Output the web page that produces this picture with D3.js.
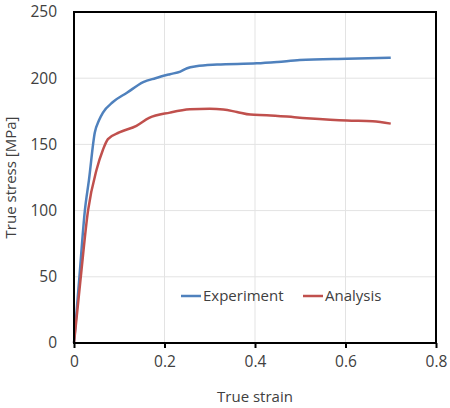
<!DOCTYPE html>
<html>
<head>
<meta charset="utf-8">
<script src="https://cdn.jsdelivr.net/npm/d3@7"></script>
<style>
  body { margin: 0; background: #fff; }
  text { font-family: "Open Sans", "Noto Sans", sans-serif; fill: #404040; }
</style>
</head>
<body>
<div id="chart-area"></div>
<script>
// chart values
var seriesNames = ["Experiment", "Analysis"];
var seriesColors = ["#4f81bd", "#c0504d"];

var expStrain = [0, 0.012, 0.024, 0.033, 0.046, 0.055, 0.064, 0.086, 0.117, 0.153, 0.18, 0.212, 0.235, 0.25, 0.27, 0.316, 0.404, 0.45, 0.499, 0.603, 0.70];
var expStress = [0, 50, 100, 123, 159, 168, 174, 182, 189, 197, 200, 203, 205, 207.5, 209, 210.3, 211.2, 212.3, 213.7, 214.7, 215.4];

var anaStrain = [0, 0.015, 0.031, 0.05, 0.064, 0.075, 0.10, 0.138, 0.166, 0.212, 0.256, 0.30, 0.33, 0.36, 0.39, 0.426, 0.499, 0.603, 0.66, 0.70];
var anaStress = [0, 50, 100, 131, 146, 154, 159, 164, 170, 174, 176.5, 177, 176.4, 174.5, 172.5, 172.1, 170.2, 168, 167.5, 165.7];

var xTicks = [0, 0.2, 0.4, 0.6, 0.8];
var yTicks = [0, 50, 100, 150, 200, 250];

var margin = { left: 74, right: 14, top: 12, bottom: 65 };
var width = 450 - margin.left - margin.right,
    height = 408 - margin.top - margin.bottom;

var svg = d3.select("#chart-area")
    .append("svg")
        .attr("width", 450)
        .attr("height", 408);
var g = svg.append("g")
        .attr("transform", "translate(" + margin.left + "," + margin.top + ")");

var x = d3.scaleLinear()
    .domain([0, 0.8])
    .range([0, width]);

var y = d3.scaleLinear()
    .domain([0, 250])
    .range([height, 0]);

// gridlines
g.selectAll(".hgrid")
    .data(yTicks.slice(1, -1))
    .enter().append("line")
        .attr("x1", 0).attr("x2", width)
        .attr("y1", function(d){ return y(d); })
        .attr("y2", function(d){ return y(d); })
        .attr("stroke", "#e3e3e3");
g.selectAll(".vgrid")
    .data(xTicks.slice(1, -1))
    .enter().append("line")
        .attr("y1", 0).attr("y2", height)
        .attr("x1", function(d){ return x(d); })
        .attr("x2", function(d){ return x(d); })
        .attr("stroke", "#e3e3e3");

// X Axis
var xAxisCall = d3.axisBottom(x)
    .tickValues(xTicks)
    .tickSize(5)
    .tickPadding(8)
    .tickFormat(function(d){ return d === 0 ? "0" : d3.format(".1f")(d); });
var xAxis = g.append("g")
    .attr("transform", "translate(0," + height + ")")
    .call(xAxisCall);
xAxis.select(".domain").remove();
xAxis.selectAll("line").attr("stroke", "#000").attr("stroke-width", 2);
xAxis.selectAll("text").attr("font-size", "15.5px").attr("fill", "#404040")
    .style("font-family", "'Open Sans', sans-serif");

// Y Axis
var yAxisCall = d3.axisLeft(y)
    .tickValues(yTicks)
    .tickSize(0)
    .tickPadding(17);
var yAxis = g.append("g").call(yAxisCall);
yAxis.select(".domain").remove();
yAxis.selectAll("text").attr("font-size", "15.5px").attr("fill", "#404040")
    .style("font-family", "'Open Sans', sans-serif");

// lines
var line = d3.line()
    .curve(d3.curveMonotoneX)
    .x(function(d){ return x(d[0]); })
    .y(function(d){ return y(d[1]); });

var series = [
    d3.zip(expStrain, expStress),
    d3.zip(anaStrain, anaStress)
];

g.selectAll(".series")
    .data(series)
    .enter().append("path")
        .attr("fill", "none")
        .attr("stroke", function(d, i){ return seriesColors[i]; })
        .attr("stroke-width", 2.5)
        .attr("stroke-linejoin", "round")
        .attr("d", line);

// frame
g.append("rect")
    .attr("width", width)
    .attr("height", height)
    .attr("fill", "none")
    .attr("stroke", "#000")
    .attr("stroke-width", 2);

// Labels
g.append("text")
    .attr("x", width / 2)
    .attr("y", height + 59)
    .attr("font-size", "15px")
    .attr("text-anchor", "middle")
    .text("True strain");
g.append("text")
    .attr("transform", "rotate(-90)")
    .attr("x", -height / 2)
    .attr("y", -58)
    .attr("font-size", "15px")
    .attr("text-anchor", "middle")
    .text("True stress [MPa]");

// legend
var legend = g.append("g")
    .attr("transform", "translate(" + (181 - margin.left) + "," + (296 - margin.top) + ")");
var legendX = [0, 122];
seriesNames.forEach(function(name, i){
    var row = legend.append("g")
        .attr("transform", "translate(" + legendX[i] + ",0)");
    row.append("line")
        .attr("x1", 0).attr("x2", 20)
        .attr("stroke", seriesColors[i])
        .attr("stroke-width", 2.5);
    row.append("text")
        .attr("x", 22)
        .attr("y", 5)
        .attr("font-size", "15px")
        .text(name);
});
</script>
</body>
</html>
